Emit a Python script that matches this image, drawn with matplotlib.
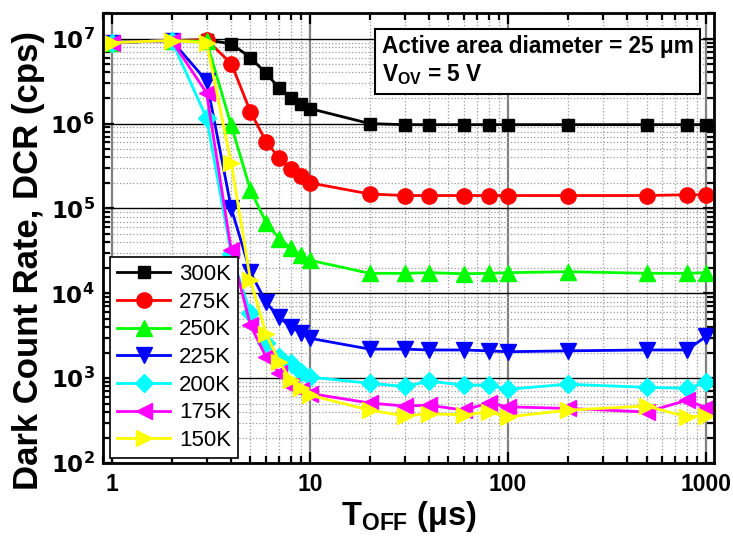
import numpy as np
import matplotlib.pyplot as plt
from matplotlib.ticker import LogLocator, FixedLocator, FuncFormatter, NullFormatter

plt.rcParams['font.family'] = ['Liberation Sans', 'DejaVu Sans']
plt.rcParams['font.weight'] = 'bold'
plt.rcParams['mathtext.fontset'] = 'custom'
plt.rcParams['mathtext.rm'] = 'DejaVu Sans:bold'
plt.rcParams['mathtext.bf'] = 'DejaVu Sans:bold'

# T_OFF (us)
t_off = [1, 2, 3, 4, 5, 6, 7, 8, 9, 10, 20, 30, 40, 60, 80, 100, 200, 500, 800, 1000]

labels = ['300K', '275K', '250K', '225K', '200K', '175K', '150K']
dcr_300 = [9.0e6, 9.5e6, 9.7e6, 8.7e6, 6.0e6, 3.9e6, 2.6e6, 2.0e6, 1.7e6, 1.5e6,
           1.0e6, 9.7e5, 9.7e5, 9.7e5, 9.7e5, 9.7e5, 9.7e5, 9.7e5, 9.7e5, 9.7e5]
dcr_275 = [9.0e6, 9.5e6, 9.7e6, 5.1e6, 1.38e6, 6.1e5, 3.9e5, 2.9e5, 2.4e5, 2.0e5,
           1.48e5, 1.42e5, 1.42e5, 1.42e5, 1.42e5, 1.42e5, 1.42e5, 1.42e5, 1.45e5, 1.45e5]
dcr_250 = [9.0e6, 9.5e6, 9.3e6, 9.5e5, 1.65e5, 6.8e4, 4.4e4, 3.4e4, 2.8e4, 2.45e4,
           1.72e4, 1.72e4, 1.75e4, 1.7e4, 1.72e4, 1.75e4, 1.8e4, 1.72e4, 1.72e4, 1.75e4]
dcr_225 = [9.0e6, 9.5e6, 3.2e6, 1.0e5, 1.77e4, 7.8e3, 5.2e3, 4.0e3, 3.4e3, 2.95e3,
           2.2e3, 2.2e3, 2.15e3, 2.15e3, 2.1e3, 2.05e3, 2.1e3, 2.15e3, 2.15e3, 3.1e3]
dcr_200 = [9.0e6, 9.5e6, 1.17e6, 2.9e4, 5.8e3, 2.6e3, 1.8e3, 1.5e3, 1.18e3, 1.03e3,
           8.7e2, 8.0e2, 9.2e2, 8.3e2, 8.3e2, 7.4e2, 8.5e2, 7.8e2, 7.6e2, 8.9e2]
dcr_175 = [9.0e6, 9.5e6, 2.3e6, 3.2e4, 4.2e3, 1.77e3, 1.15e3, 8.1e2, 7.2e2, 6.6e2,
           5.1e2, 4.7e2, 4.8e2, 4.2e2, 5.1e2, 4.6e2, 4.4e2, 4.0e2, 5.5e2, 4.5e2]
dcr_150 = [9.0e6, 9.5e6, 9.0e6, 3.4e5, 1.42e4, 3.3e3, 1.55e3, 9.5e2, 7.6e2, 6.3e2,
           4.2e2, 3.6e2, 3.8e2, 3.7e2, 4.0e2, 3.5e2, 4.2e2, 4.7e2, 3.5e2, 3.6e2]
series = [dcr_300, dcr_275, dcr_250, dcr_225, dcr_200, dcr_175, dcr_150]

colors = ['#000000', '#ff0000', '#00ff00', '#0000ff', '#00ffff', '#ff00ff', '#ffff00']
markers = ['s', 'o', '^', 'v', 'D', '<', '>']
msizes = [9, 11, 11, 11, 9, 11, 11]

fig = plt.figure(figsize=(7.33, 5.48), dpi=100)
ax = fig.add_axes([0.1405, 0.155, 0.834, 0.821])

for y, lab, c, m, ms in zip(series, labels, colors, markers, msizes):
    ax.plot(t_off, y, color=c, marker=m, markersize=ms, linewidth=2, label=lab)

ax.set_xscale('log')
ax.set_yscale('log')
ax.set_xlim(0.9, 1100)
ax.set_ylim(100, 2e7)

ax.xaxis.set_major_locator(FixedLocator([1, 10, 100, 1000]))
ax.xaxis.set_minor_locator(LogLocator(base=10, subs=np.arange(2, 10)))
ax.xaxis.set_minor_formatter(NullFormatter())
ax.xaxis.set_major_formatter(FuncFormatter(lambda v, p: '%d' % v))
ax.yaxis.set_major_locator(FixedLocator([1e2, 1e3, 1e4, 1e5, 1e6, 1e7]))
ax.yaxis.set_minor_locator(LogLocator(base=10, subs=np.arange(2, 10)))
ax.yaxis.set_minor_formatter(NullFormatter())
ax.yaxis.set_major_formatter(FuncFormatter(lambda v, p: r'$\mathbf{10^{%d}}$' % round(np.log10(v))))

# grid
ax.grid(which='minor', color='#9a9a9a', linestyle=':', linewidth=0.9)
ax.grid(which='major', axis='y', color='black', linestyle='-', linewidth=1.0)
ax.grid(which='major', axis='x', color='#808080', linestyle='-', linewidth=1.6)
ax.set_axisbelow(True)

ax.tick_params(which='both', direction='in', top=True, right=True, width=1.6)
ax.tick_params(which='major', length=8)
ax.tick_params(which='minor', length=5)
ax.tick_params(axis='x', which='major', labelsize=16.5, pad=7)
ax.tick_params(axis='y', which='major', labelsize=16.5, pad=6)
for s in ax.spines.values():
    s.set_linewidth(2)

ax.set_xlabel(r'T$_{\mathregular{OFF}}$ (μs)', fontsize=23.5, fontweight='bold')
ax.xaxis.set_label_coords(0.5, -0.08, transform=ax.transAxes)
ax.xaxis.label.set_verticalalignment('top')
ax.set_ylabel('Dark Count Rate, DCR (cps)', fontsize=25, fontweight='bold')
ax.yaxis.set_label_coords(-0.095, 0.45)

ax.text(0.456, 0.952, 'Active area diameter = 25 μm\nV$_{\\mathregular{OV}}$ = 5 V',
        transform=ax.transAxes, ha='left', va='top', fontsize=16.3, fontweight='bold',
        linespacing=1.25,
        bbox=dict(boxstyle='square,pad=0.3', facecolor='white', edgecolor='black', linewidth=1.5))

leg = ax.legend(loc='lower left', bbox_to_anchor=(0.012, 0.012),
                frameon=True, fancybox=False, edgecolor='black', framealpha=1,
                handlelength=2.4, labelspacing=0.3, borderpad=0.3, handletextpad=0.4,
                borderaxespad=0, prop={'weight': 'normal', 'size': 16, 'family': 'Liberation Sans'})
leg.get_frame().set_linewidth(1.2)

fig.savefig('out.png', dpi=100)
